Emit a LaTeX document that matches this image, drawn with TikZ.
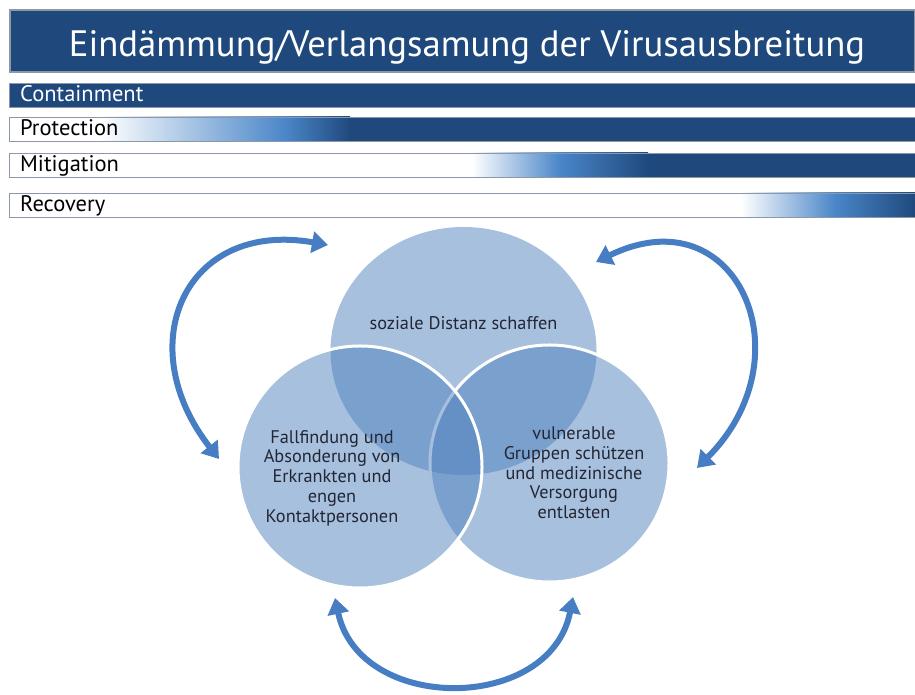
\documentclass[tikz,border=0pt]{standalone}
\usepackage{fontspec}
\setmainfont{PT Sans}
\usetikzlibrary{arrows.meta,shapes,positioning}
\definecolor{titleblue}{RGB}{31,73,125}
\definecolor{midblue}{RGB}{74,134,200}
\definecolor{arrowblue}{RGB}{70,125,195}
\definecolor{vennblue}{RGB}{79,129,189}
\definecolor{barline}{RGB}{140,152,168}
\definecolor{venntext}{RGB}{35,38,52}
\tikzset{
  phase/.style      = {anchor=base west, inner sep=0pt, font=\fontsize{22.5}{22.5}\selectfont},
  venn/.style       = {ellipse, fill=vennblue, fill opacity=0.5, inner sep=0pt},
  venn edge/.style  = {venn, draw=white, line width=3pt},
  venn label/.style = {align=center, inner sep=0pt, text=venntext,
                       font=\fontsize{18.3}{19.7}\selectfont},
  cycle/.style      = {{Triangle[width=21pt,length=16pt]}-{Triangle[width=21pt,length=16pt]},
                       line width=6pt, draw=arrowblue}
}

\begin{document}
\begin{tikzpicture}[x=1pt,y=1pt]
  \useasboundingbox (0,0) rectangle (915,695);

  % title bar
  \draw[fill=titleblue, draw=barline, line width=1.5pt] (10,623) rectangle (915,685);
  \node[anchor=base, text=white, font=\fontsize{36.7}{36.7}\selectfont] (title) at (467,638)
    {Eindämmung/Verlangsamung der Virusausbreitung};

  % the four phases, first one full, the others fading in from the right
  \draw[fill=titleblue, draw=barline] (9,588) rectangle (915,612);
  \node[phase, text=white] (containment) at (20,593) {Containment};
  \foreach \nm/\lbl/\yb/\xa/\xb/\xc in {protection/Protection/554/100/286/350,
      mitigation/Mitigation/518/472/560/648, recovery/Recovery/478/741/835/915}{
    \shade[left color=white, right color=midblue] (\xa,\yb) rectangle (\xb,\yb+24);
    \shade[left color=midblue, right color=titleblue] (\xb,\yb) rectangle (\xc,\yb+24);
    \fill[titleblue] (\xc,\yb) rectangle (915,\yb+24);
    \draw[barline] (9,\yb) rectangle (915,\yb+24);
    \node[phase] (\nm) at (20,\yb+5) {\lbl};
  }

  % the three measures
  \node[venn, minimum width=266pt, minimum height=248pt] (ctop) at (463.5,344) {};
  \node[venn edge, minimum width=239pt, minimum height=237pt] (cright) at (549.5,231.5) {};
  \node[venn edge, minimum width=244pt, minimum height=242pt] (cleft) at (360,228) {};

  \node[venn label, anchor=base, yshift=21pt] (distanz) at (ctop) {soziale Distanz schaffen};
  \node[venn label, xshift=-28pt, yshift=-11pt] (fallfindung) at (cleft)
    {Fallfindung und\\Absonderung von\\Erkrankten und\\engen\\Kontaktpersonen};
  \node[venn label, xshift=24.5pt, yshift=-9.5pt] (gruppen) at (cright)
    {vulnerable\\Gruppen schützen\\und medizinische\\Versorgung\\entlasten};

  % arrow ends round the circles
  \coordinate (l1) at (219,236);
  \coordinate (l2) at (328,450);
  \coordinate (r1) at (596,433);
  \coordinate (r2) at (697,227);
  \coordinate (b1) at (335,97);
  \coordinate (b2) at (573,98);

  \draw[cycle] (l1) to[out=128, in=170, looseness=1.55] (l2);
  \draw[cycle] (r1) to[out=26, in=45, looseness=1.75] (r2);
  \draw[cycle] (b1) to[out=-78, in=-101, looseness=1.27] (b2);
\end{tikzpicture}
\end{document}
